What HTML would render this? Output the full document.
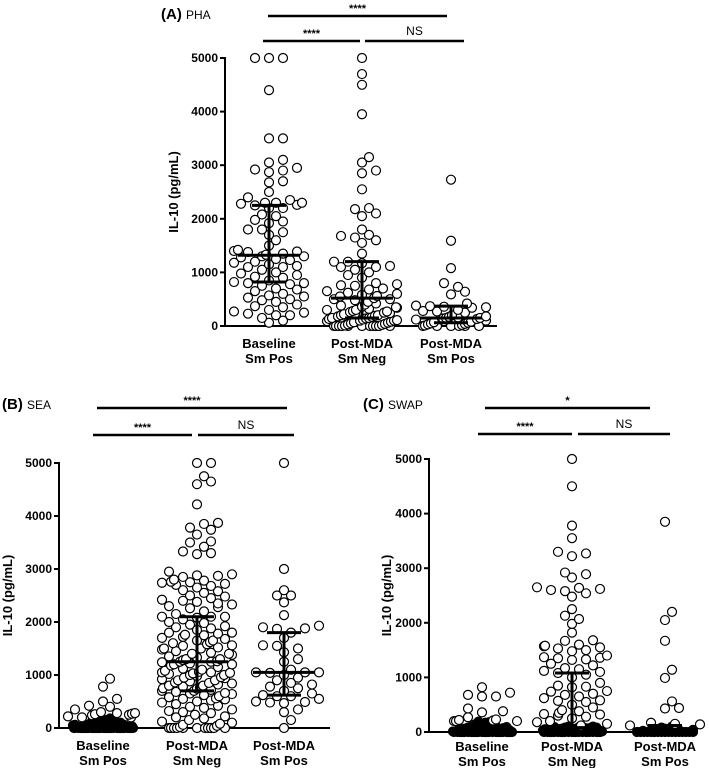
<!DOCTYPE html>
<html><head><meta charset="utf-8">
<style>
html,body{margin:0;padding:0;background:#fff;}
svg{display:block;font-family:"Liberation Sans",Arial,sans-serif;}
</style></head>
<body>
<svg id="chart" width="709" height="768" viewBox="0 0 709 768"></svg>
<script>
const categories = ["Baseline|Sm Pos","Post-MDA|Sm Neg","Post-MDA|Sm Pos"];
const yTicks = [0,1000,2000,3000,4000,5000];

const phaBaseline = [5000,5000,5000,4400,3500,3500,3100,3050,2950,2920,2900,2870,2700,2680,2500,2400,2350,2300,2300,2300,2280,2260,2250,2200,2200,2080,2050,1980,1950,1920,1800,1800,1750,1700,1600,1500,1420,1400,1390,1380,1350,1330,1300,1300,1280,1250,1230,1200,1180,1150,1120,1100,1100,1050,1000,980,950,920,900,850,820,800,800,780,750,700,680,650,600,570,550,530,500,480,450,400,370,350,300,270,250,230,200,200,150,100,60];
const phaPostNeg = [5000,4700,4500,3950,3150,3050,2900,2850,2550,2200,2180,2100,2050,1800,1700,1680,1650,1600,1550,1350,1200,1200,1170,1120,1100,1100,1050,1000,950,900,800,780,760,750,700,680,650,620,600,580,560,550,520,500,500,480,450,420,400,380,360,350,340,320,300,300,280,270,260,250,240,230,220,200,200,190,180,170,160,150,150,140,130,120,110,100,100,90,80,70,60,50,40,30,20,10,0,0,0,0,0,0,0,0,0,0,0,0];
const phaPostPos = [2730,1590,1080,800,730,640,590,420,380,370,360,350,340,300,280,270,250,200,180,170,160,150,150,140,130,120,100,90,80,70,60,50,40,30,20,10,0,0,0,0,0,0];

const seaBaseline = [930,780,550,500,420,400,350,300,280,280,270,260,250,240,220,200,200,180,180,160,150,150,140,130,120,110,100,100,90,90,80,80,70,70,60,60,60,50,50,50,40,40,40,40,30,30,30,30,30,20,20,20,20,20,20,10,10,10,10,10,10,10,10,0,0,0,0,0,0,0,0,0,0,0,0,0,0,0,0,0,0,0,0,0,0,0,0,0,0,0,0,0,0,0,0,0,0,0,0,0,0];
const seaPostNeg = [5000,5000,4750,4650,4600,4220,3870,3850,3780,3740,3650,3520,3500,3420,3330,3300,3280,2950,2900,2880,2870,2850,2800,2780,2760,2750,2740,2720,2700,2680,2650,2600,2580,2550,2500,2480,2450,2420,2400,2380,2350,2330,2300,2280,2260,2200,2150,2100,2100,2100,2080,2050,2000,1980,1950,1920,1900,1880,1850,1800,1800,1780,1760,1750,1720,1700,1680,1650,1650,1620,1600,1580,1560,1550,1520,1500,1500,1480,1450,1420,1400,1400,1380,1350,1330,1300,1300,1280,1260,1250,1250,1240,1220,1200,1200,1180,1150,1120,1100,1080,1060,1050,1050,1040,1030,1020,1000,1000,980,960,950,940,920,900,900,880,860,850,840,820,800,800,780,760,750,740,720,700,700,680,660,650,640,620,600,580,560,550,540,520,500,480,450,420,400,380,350,320,300,280,250,220,200,180,150,120,100,80,60,40,20,0,0,0,0,0,0,0,0,0,0,0,0];
const seaPostPos = [5000,3000,2600,2500,2500,2370,2130,1930,1900,1880,1870,1800,1700,1560,1550,1500,1430,1300,1250,1100,1050,1050,1050,1040,1000,950,900,850,820,780,750,700,650,620,600,600,550,500,490,480,470,350,300,150,0];

const swapBaseline = [820,720,680,650,650,430,380,360,270,230,220,210,200,200,200,190,180,170,160,150,140,130,120,110,100,100,90,90,80,80,70,70,60,60,60,50,50,50,40,40,40,40,30,30,30,30,20,20,20,20,20,10,10,10,10,10,10,0,0,0,0,0,0,0,0,0,0,0,0,0,0,0,0,0,0,0,0,0,0,0,0,0,0,0,0,0,0,0,0,0];
const swapPostNeg = [5000,4500,3780,3550,3300,3270,3220,2920,2890,2830,2650,2640,2620,2600,2580,2540,2480,2250,2130,2070,1980,1820,1680,1670,1600,1580,1570,1550,1530,1500,1480,1400,1370,1360,1350,1330,1320,1250,1220,1170,1150,1120,1100,1080,1050,1000,900,850,830,820,750,740,700,680,650,620,580,570,550,500,450,400,380,350,330,320,300,280,250,200,180,150,120,100,100,90,90,80,80,80,70,70,60,60,60,50,50,50,40,40,40,30,30,30,20,20,20,10,10,10,0,0,0,0,0,0,0,0,0,0,0,0,0,0,0,0,0,0,0,0,0,0,0,0,0,0];
const swapPostPos = [3850,2200,2050,1670,1140,990,560,440,430,170,150,140,120,100,80,60,50,40,30,20,20,10,10,0,0,0,0,0,0,0,0,0,0,0,0,0,0,0,0,0,0];

const phaMedian = [1320,520,150], phaQ1 = [820,150,60], phaQ3 = [2250,1200,370];
const seaMedian = [20,1250,1050], seaQ1 = [0,700,620], seaQ3 = [60,2100,1800];
const swapMedian = [10,80,10], swapQ1 = [0,0,0], swapQ3 = [100,1080,120];

const NS = "http://www.w3.org/2000/svg";
const svg = document.getElementById('chart');
function mk(tag, attrs, parent){const e=document.createElementNS(NS,tag);for(const k in attrs)e.setAttribute(k,attrs[k]);(parent||svg).appendChild(e);return e;}

function drawPanel(p){
  const g = mk('g',{});
  
  
  const yS = v => p.y0 - (v/5000)*(p.y0-p.y5);
  const t = mk('text',{x:p.tx,y:p.ty,'font-size':15,'font-weight':'bold'},g);
  
  
  t.textContent = p.letter+' ';
  const ts = mk('tspan',{'font-weight':'normal','font-size':12},t); ts.textContent = p.name;
  const ya = mk('line',{x1:p.ax,y1:p.y5-1,x2:p.ax,y2:p.y0+1,stroke:'#000','stroke-width':2},g);
  
  
  const xa = mk('line',{x1:p.ax-1,y1:p.y0,x2:p.xend,y2:p.y0,stroke:'#000','stroke-width':2},g);
  
  
  yTicks.forEach(v=>{
    mk('line',{x1:p.ax-5,y1:yS(v),x2:p.ax,y2:yS(v),stroke:'#000','stroke-width':2},g);
    const tl = mk('text',{x:p.ax-7,y:yS(v)+4,'font-size':12,'font-weight':'bold','text-anchor':'end'},g);
    
    
    tl.textContent = v;
  });
  const yl = mk('text',{x:0,y:0,'font-size':13,'font-weight':'bold','text-anchor':'middle',transform:`translate(${p.ylx},${(p.y0+p.y5)/2}) rotate(-90)`},g);
  
  
  yl.textContent = 'IL-10 (pg/mL)';
  categories.forEach((c,i)=>{
    const parts=c.split('|');
    parts.forEach((s,j)=>{
      const cl = mk('text',{x:p.cx[i],y:p.labelY+j*15,'font-size':13,'font-weight':'bold','text-anchor':'middle'},g);
      
      
      cl.textContent = s;
    });
  });
  const r=4.5;
  p.data.forEach((arr,gi)=>{
    const placed=[];
    const sorted=[...arr].sort((a,b)=>a-b);
    const thr = p.denseThr[gi];
    sorted.forEach((v,idx)=>{
      const y=yS(v); let xOff=null;
      const dense = v < thr;
      const minD = dense ? 3 : 8.5;
      const step = dense ? 3.5 : 7;
      const maxHalf = dense ? 30 : 35;
      const nSlots = Math.floor(maxHalf/step);
      for(let k=0;k<=nSlots;k++){
        const cands = k===0?[0]:[k*step,-k*step];
        for(const o of cands){
          if(placed.every(q=>Math.hypot(q[0]-o,q[1]-y)>=minD)){xOff=o;break;}
        }
        if(xOff!==null)break;
      }
      if(xOff===null){xOff=((idx*37)%(2*maxHalf+1))-maxHalf;}
      placed.push([xOff,y]);
      const c = mk('circle',{cx:p.cx[gi]+xOff,cy:y,r:r,fill:dense?'#000':'#fff',stroke:'#000','stroke-width':1.2},g);
      
      
    });
  });
  p.cx.forEach((x,i)=>{
    const eb = mk('g',{stroke:'#000','stroke-width':3},g);
    
    
    mk('line',{x1:x,y1:yS(p.q1[i]),x2:x,y2:yS(p.q3[i])},eb);
    mk('line',{x1:x-31,y1:yS(p.med[i]),x2:x+31,y2:yS(p.med[i])},eb);
    mk('line',{x1:x-17,y1:yS(p.q1[i]),x2:x+17,y2:yS(p.q1[i])},eb);
    mk('line',{x1:x-17,y1:yS(p.q3[i]),x2:x+17,y2:yS(p.q3[i])},eb);
  });
  p.sig.forEach(s=>{
    const sl = mk('line',{x1:s[0],y1:s[2],x2:s[1],y2:s[2],stroke:'#000','stroke-width':2.5},g);
    
    
    const st = mk('text',{x:(s[0]+s[1])/2,y:s[2]-(s[3]==='NS'?6:4),'font-size':s[3]==='NS'?12:11,'text-anchor':'middle','font-weight':s[3]==='NS'?'normal':'bold'},g);
    
    
    st.textContent = s[3];
  });
}

drawPanel({key:'pha',letter:'(A)',name:'PHA',tx:161,ty:19,ax:225,y0:326,y5:58,xend:497,ylx:178,labelY:348,
  cx:[269,362,451],denseThr:[0,0,0],data:[phaBaseline,phaPostNeg,phaPostPos],med:phaMedian,q1:phaQ1,q3:phaQ3,
  sig:[[268,447,16,'****'],[263,360,41,'****'],[365,464,41,'NS']]});
drawPanel({key:'sea',letter:'(B)',name:'SEA',tx:2,ty:409,ax:59,y0:728,y5:463,xend:330,ylx:12,labelY:750,
  cx:[103,197,284],denseThr:[200,0,0],data:[seaBaseline,seaPostNeg,seaPostPos],med:seaMedian,q1:seaQ1,q3:seaQ3,
  sig:[[97,287,408,'****'],[93,192,435,'****'],[198,294,435,'NS']]});
drawPanel({key:'swap',letter:'(C)',name:'SWAP',tx:363,ty:409,ax:429,y0:732,y5:459,xend:693,ylx:391,labelY:751,
  cx:[482,572,665],denseThr:[200,120,120],data:[swapBaseline,swapPostNeg,swapPostPos],med:swapMedian,q1:swapQ1,q3:swapQ3,
  sig:[[485,650,408,'*'],[478,572,434,'****'],[578,670,434,'NS']]});
</script>
</body></html>
